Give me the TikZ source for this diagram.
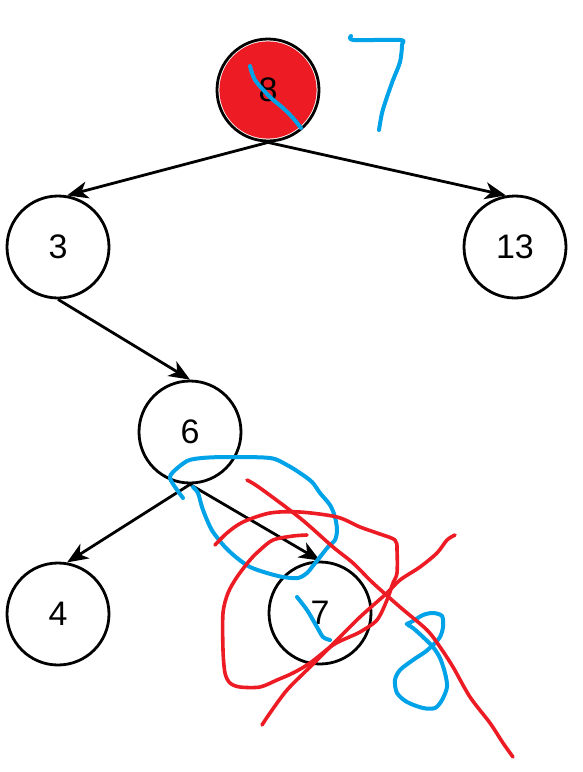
\documentclass[tikz,border=0pt]{standalone}
\usepackage{fontspec}
\setmainfont{Liberation Sans}
\usetikzlibrary{arrows.meta}
\definecolor{pred}{RGB}{237,28,36}
\definecolor{pblue}{RGB}{0,162,232}
\begin{document}
\begin{tikzpicture}[x=1pt,y=-1pt,
  tnode/.style={circle,draw=black,line width=2.8pt,minimum size=102pt,inner sep=0pt,font=\fontsize{34}{36}\selectfont},
  rootfill/.style={fill=white,path picture={\fill[pred] (path picture bounding box.center) circle (48.6pt);}},
  edge/.style={line width=2.8pt,-{Stealth[length=21pt,width=17pt,inset=6pt]}},
  bluepen/.style={pblue,line width=4pt,line cap=round,line join=round},
  redpen/.style={pred,line width=3.6pt,line cap=round,line join=round}]
\fill[white] (0,0) rectangle (582,772);
\useasboundingbox (0,0) rectangle (582,772);

\node[tnode,rootfill] (n8) at (268,90) {8};
\node[tnode] (n3) at (58,247) {3};
\node[tnode] (n13) at (515,247) {13};
\node[tnode] (n6) at (190,432) {6};
\node[tnode] (n4) at (58,614) {4};
\node[tnode] (n7) at (320,613) {7};

\draw[edge] (n8.south) -- (n3.80);
\draw[edge] (n8.south) -- (n13.100);
\draw[edge] (n3.south) -- (n6.north);
\draw[edge] (n6.south) -- (n4.80);
\draw[edge] (n6.south) -- (n7.north);

% blue scribbles
\draw[bluepen] plot[smooth,tension=0.5] coordinates {(351,36) (354,40) (400,40) (402,45) (400,62) (393,80) (387,97) (382,113) (379,130)};
\draw[bluepen] plot[smooth,tension=0.5] coordinates {(250,66) (255,80) (270,97) (283,108) (293,118) (301,128)};
\draw[bluepen] plot[smooth,tension=0.5] coordinates {(183,498) (175,487) (170,478) (173,472) (187,461) (202,458) (227,457) (270,458) (287,465) (300,473) (312,482) (320,493) (330,505) (335,517) (337,530) (335,540) (328,547) (320,557) (312,567) (307,573) (298,578) (283,577) (267,573) (250,567) (237,558) (225,547) (213,532) (207,520) (202,507) (198,493) (193,487)};
\draw[bluepen] plot[smooth,tension=0.5] coordinates {(297,597) (307,610) (317,627) (323,637) (330,640)};
\draw[bluepen] plot[smooth,tension=0.5] coordinates {(406.7,624) (413,621) (423,615) (433,613) (442,616) (443,627) (440,637) (433,645) (425,652) (413,660) (400,670) (395,680) (397,693) (407,702) (423,708) (435,708) (442,700) (447,687) (445,673) (440,658) (433,647) (423,637) (413,628) (408,625)};

% red scribbles
\draw[redpen] plot[smooth,tension=0.5] coordinates {(215,545) (227,533) (243,522) (270,513) (300,512) (337,517) (360,527) (377,533) (395,540) (397,550) (397,573) (393,583) (387,600) (377,620) (360,632) (347,638) (333,645) (310,663) (293,673) (277,680) (260,687) (240,687) (230,683) (225,673) (223,650) (223,613) (228,593) (237,577) (250,560) (260,550) (273,540) (293,536) (307,535)};
\draw[redpen] plot[smooth,tension=0.5] coordinates {(247,480) (260,488) (300,518) (333,547) (353,563) (373,583) (400,607) (427,630) (440,647) (453,667) (470,697) (490,723) (503,743) (513,757)};
\draw[redpen] plot[smooth,tension=0.5] coordinates {(262,725) (270,713) (287,690) (310,667) (337,640) (360,617) (387,593) (400,580) (420,567) (437,553) (447,540) (455,535)};
\end{tikzpicture}
\end{document}
